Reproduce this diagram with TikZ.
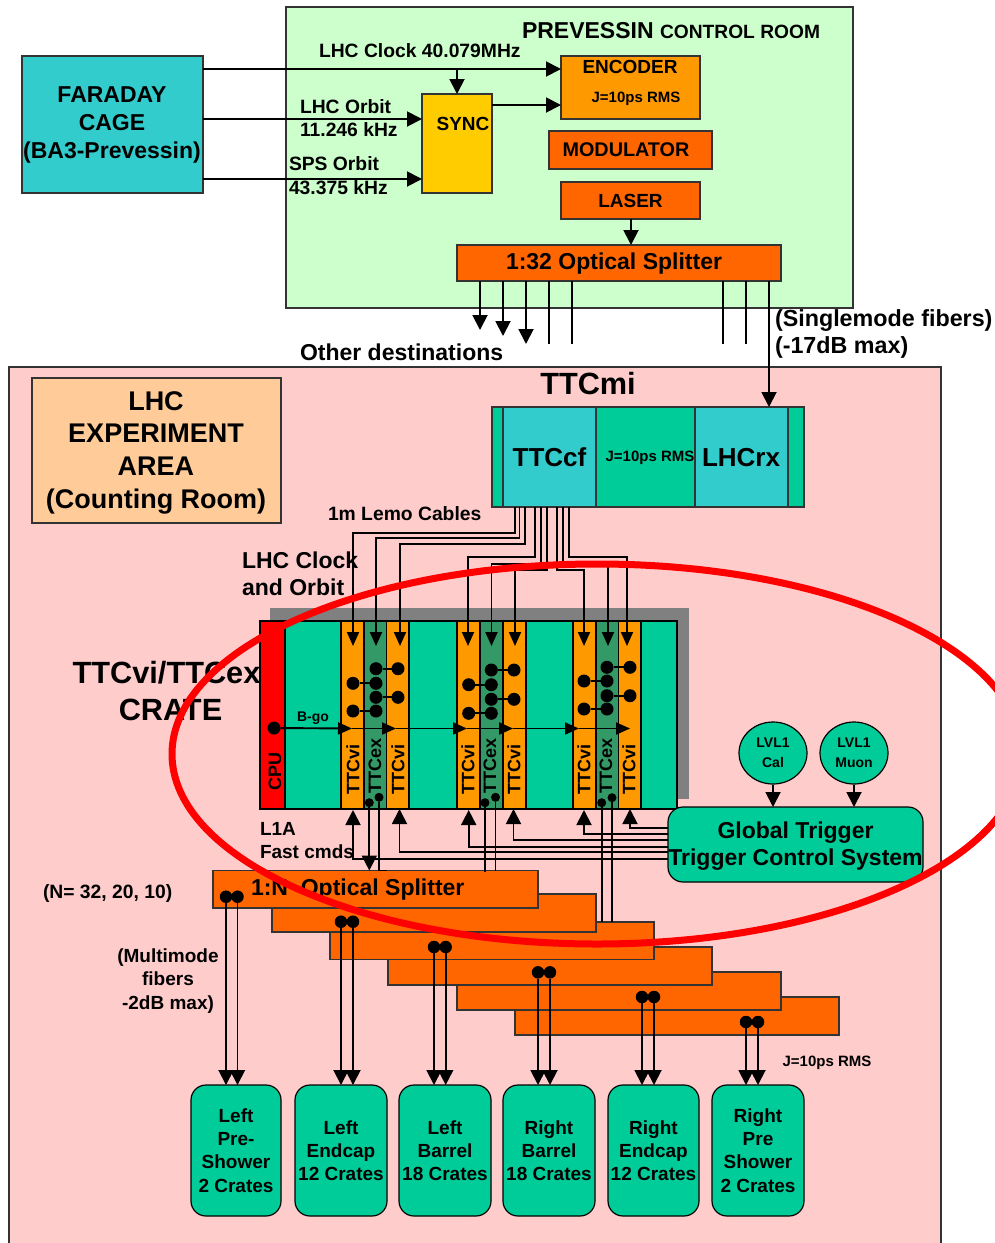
\documentclass[tikz,border=0pt]{standalone}
\usepackage{fontspec}
\setmainfont{Liberation Sans}
\usetikzlibrary{arrows.meta,shapes.geometric}
\definecolor{cFar}{HTML}{33CCCC}
\definecolor{cRoom}{HTML}{CCFFCC}
\definecolor{cPink}{HTML}{FFCCCC}
\definecolor{cPeach}{HTML}{FFCC99}
\definecolor{cOrange}{HTML}{FF9900}
\definecolor{cDeep}{HTML}{FF6600}
\definecolor{cSync}{HTML}{FFCC00}
\definecolor{cGreen}{HTML}{00CC99}
\definecolor{cEx}{HTML}{339966}
\definecolor{cEdge}{HTML}{333333}
\definecolor{cShadow}{HTML}{808080}
\tikzset{
  panel/.style={draw=cEdge,line width=1.2pt,inner sep=0pt,outer sep=0pt,align=center,font=\bfseries},
  rnd/.style={panel,fill=cGreen,rounded corners=15pt,draw=black},
  t/.style={inner sep=0pt,outer sep=0pt,align=center},
  tl/.style={inner sep=0pt,outer sep=0pt,align=left},
  s14/.style={font=\fontsize{14}{20}\selectfont\bfseries},
  s15/.style={font=\fontsize{15}{18}\selectfont\bfseries},
  s19/.style={font=\fontsize{19}{23.3}\selectfont\bfseries},
  s19b/.style={font=\fontsize{19.3}{23.8}\selectfont\bfseries},
  s198/.style={font=\fontsize{19.8}{24}\selectfont\bfseries},
  s18/.style={font=\fontsize{18}{22}\selectfont\bfseries},
  s23/.style={font=\fontsize{23}{27}\selectfont\bfseries},
  s23f/.style={font=\fontsize{23}{28}\selectfont\bfseries},
  s23s/.style={font=\fontsize{23.3}{27}\selectfont\bfseries},
  s26/.style={font=\fontsize{26}{32}\selectfont\bfseries},
  s27/.style={font=\fontsize{27}{32.7}\selectfont\bfseries},
  s30/.style={font=\fontsize{30.7}{37}\selectfont\bfseries},
  conn/.style={line width=1.9pt,draw=black},
  arr/.style={conn,-{Triangle[length=15pt,width=15pt]}},
  arrm/.style={conn,-{Triangle[length=14pt,width=12pt]}},
  dot/.style={circle,fill=black,inner sep=0pt,outer sep=0pt,minimum size=13pt},
  smalldot/.style={circle,fill=black,inner sep=0pt,outer sep=0pt,minimum size=9pt},
  pairdot/.style={circle,fill=black,inner sep=0pt,outer sep=0pt,minimum size=12.5pt},
  lvl/.style={draw=black,line width=1.2pt,fill=cGreen,ellipse,minimum width=68pt,minimum height=62pt,inner sep=0pt,align=center,s14},
}
\newcommand{\bx}[7][]{%
  \pgfmathsetmacro\bxw{#5-#3}\pgfmathsetmacro\bxh{#6-#4}%
  \pgfmathsetmacro\bxx{(#3+#5)/2}\pgfmathsetmacro\bxy{(#4+#6)/2}%
  \node[panel,minimum width=\bxw pt,minimum height=\bxh pt,#1] (#2) at (\bxx,\bxy) {#7};}
\begin{document}
\begin{tikzpicture}[x=1pt,y=-1pt]
\useasboundingbox (0,0) rectangle (995,1243);
\clip (0,0) rectangle (995,1243);
\fill[white] (0,0) rectangle (995,1243);

% --- Prevessin ---
\bx[fill=cRoom]{room}{286}{7}{853}{308}{}
\bx[fill=cFar]{faraday}{22}{56}{203}{193}{}
\bx[fill=cOrange]{encoder}{561}{56}{700}{119}{}
\bx[fill=cDeep]{modulator}{549}{131}{712}{169}{}
\bx[fill=cDeep,s19]{laser}{561}{182}{700}{219}{LASER}
\bx[fill=cDeep]{osplit}{457}{245}{781}{281}{}
\bx[fill=cSync]{sync}{422}{94}{492}{193}{}

\node[t,s23f] (fartxt) at (112,125) {FARADAY\\CAGE\\(BA3-Prevessin)};
\node[t,s19] (synctxt) at (463,124) {SYNC};
\node[t,s19] (enctxt) at (630,67) {ENCODER};
\node[t,s15] (encj) at (636,98.5) {J=10ps RMS};
\node[t,s198] (modtxt) at (626,150) {MODULATOR};
\node[t,s23] (osplittxt) at (614,264) {1:32 Optical Splitter};
\node[tl,anchor=west,s23] (prev) at (522,31) {PREVESSIN {\fontsize{19.2}{23}\selectfont CONTROL ROOM}};
\node[tl,anchor=west,s19b] (clk) at (319,51) {LHC Clock 40.079MHz};
\node[tl,anchor=west,s19b] (orb) at (300,118) {LHC Orbit\\11.246 kHz};
\node[tl,anchor=west,s19b] (sps) at (289,176) {SPS Orbit\\43.375 kHz};
\node[tl,anchor=west,s23] (other) at (300,352) {Other destinations};
\node[tl,anchor=west,s23s] (single) at (775,334) {(Singlemode fibers)\\(-17dB max)};

\draw[arr] (faraday.east |- 0,69) -- (encoder.west |- 0,69);
\draw[arr] (457,69) -- (sync.north -| 457,0);
\draw[arr] (faraday.east |- 0,119) -- (sync.west |- 0,119);
\draw[arr] (faraday.east |- 0,179) -- (sync.west |- 0,179);
\draw[arr] (sync.east |- 0,105) -- (encoder.west |- 0,105);
\draw[arr] (laser.south -| 631,0) -- (osplit.north -| 631,0);

\foreach \xx/\yy in {480/330,503/336,526/344}
  \draw[arr] (osplit.south -| \xx,0) -- (\xx,\yy);
\foreach \xx in {549,572,723,746}
  \draw[conn] (osplit.south -| \xx,0) -- (\xx,344);

% --- Experiment area ---
\fill[cPink] (9,367) rectangle (941,1250);
\draw[cEdge,line width=1.2pt] (9,1250) -- (9,367) -- (941,367) -- (941,1250);
\node[panel,fill=cPeach,minimum width=249pt,minimum height=145pt] (area) at (156.5,450.5) {};
\node[t,s27] (areatxt) at (156,452.5) {LHC\\EXPERIMENT\\AREA\\(Counting Room)};

\node[t,s30] (mi) at (588,384) {TTCmi};
\bx[fill=cGreen]{ttcmi}{492}{407}{804}{507}{}
\bx[fill=cFar,s26]{ttccf}{503}{407}{596}{507}{TTCcf}
\bx[fill=cFar]{lhcrx}{695}{407}{788}{507}{}
\node[t,s26] (rxtxt) at (741,458) {LHCrx};
\node[t,s15] (mij) at (650,457.5) {J=10ps RMS};
\draw[arr] (osplit.south -| 769,0) -- (lhcrx.north -| 769,0);

\node[tl,anchor=west,s19b] (lemo) at (328,514) {1m Lemo Cables};
\node[tl,anchor=west,s23] (lclk) at (242,573.5) {LHC Clock\\and Orbit};
\node[t,s30] (crateone) at (166.5,673) {TTCvi/TTCex};
\node[t,s30] (cratetwo) at (170.5,710) {CRATE};
\node[tl,anchor=west,s19] (l1a) at (260,840.5) {L1A\\Fast cmds};
\node[tl,anchor=west,s19b] (nn) at (43,893.5) {(N= 32, 20, 10)};
\node[t,s19] (multi) at (168,981) {(Multimode\\fibers\\-2dB max)};
\node[t,s15] (jbot) at (827,1062.5) {J=10ps RMS};

% crate
\fill[cShadow] (270,608) rectangle (689,799);
\bx[fill=cGreen,draw=black]{cratebox}{260}{621}{677}{809}{}
\bx[fill=red,draw=black]{cpu}{260}{621}{285}{809}{}
\node[t,s18,rotate=90] (cputxt) at (275,771) {CPU};

\bx[fill=cOrange,draw=black]{va}{341}{621}{364}{809}{}
\bx[fill=cEx,draw=black]{xa}{364}{621}{386.5}{809}{}
\bx[fill=cOrange,draw=black]{vb}{386.5}{621}{409}{809}{}
\bx[fill=cOrange,draw=black]{vc}{457}{621}{480}{809}{}
\bx[fill=cEx,draw=black]{xb}{480}{621}{503}{809}{}
\bx[fill=cOrange,draw=black]{vd}{503}{621}{526}{809}{}
\bx[fill=cOrange,draw=black]{ve}{573}{621}{596}{809}{}
\bx[fill=cEx,draw=black]{xc}{596}{621}{618.5}{809}{}
\bx[fill=cOrange,draw=black]{vf}{618.5}{621}{641}{809}{}

\foreach \nm/\xx in {a/353,b/398,c/468,d/514,e/584,f/629}
  \node[t,s18,rotate=90] (tv\nm) at (\xx,769) {TTCvi};
\foreach \nm/\xx in {a/375,b/490,c/606}
  \node[t,s18,rotate=90] (tx\nm) at (\xx,766) {TTCex};

% lemo cables into crate
\draw[arrm] (ttccf.south -| 515,0) -- (515,533) -- (353,533) -- (353,646);
\draw[arrm] (ttccf.south -| 519.5,0) -- (519.5,538) -- (376,538) -- (376,646);
\draw[arrm] (ttccf.south -| 525,0) -- (525,544) -- (400,544) -- (400,646);
\draw[arrm] (ttccf.south -| 535,0) -- (535,557) -- (468,557) -- (468,646);
\draw[arrm] (ttccf.south -| 541,0) -- (541,564) -- (491.5,564) -- (491.5,646);
\draw[arrm] (ttccf.south -| 547,0) -- (547,570) -- (515,570) -- (515,646);
\draw[arrm] (ttccf.south -| 557,0) -- (557,570) -- (584,570) -- (584,646);
\draw[arrm] (ttccf.south -| 563,0) -- (563,566) -- (608,566) -- (608,646);
\draw[arrm] (ttccf.south -| 569,0) -- (569,557) -- (627,557) -- (627,646);

% dots
\foreach \g/\xl/\xm/\xr/\ya/\yb/\yc/\yd in {a/353/376/398/668.7/683.3/697.3/711,b/468.7/491.3/514/670/684.7/699.3/713.3,c/584/607/630/667.3/681/695.7/709}{
  \node[dot] (m1\g) at (\xm,\ya) {};
  \node[dot] (m2\g) at (\xm,\yb) {};
  \node[dot] (m3\g) at (\xm,\yc) {};
  \node[dot] (m4\g) at (\xm,\yd) {};
  \node[dot] (r1\g) at (\xr,\ya) {};
  \node[dot] (r2\g) at (\xr,\yc) {};
  \node[dot] (l1\g) at (\xl,\yb) {};
  \node[dot] (l2\g) at (\xl,\yd) {};
  \draw[conn] (m1\g) -- (r1\g);
  \draw[conn] (m3\g) -- (r2\g);
  \draw[conn] (l1\g) -- (m2\g);
  \draw[conn] (l2\g) -- (m4\g);
}

% B-go
\node[dot] (bgo) at (274,728) {};
\node[t,font=\fontsize{14}{17}\selectfont\bfseries] (bgotxt) at (313,718) {B-go};
\coordinate (g1) at (352,728.5);
\coordinate (g2) at (396,728.5);
\coordinate (g3) at (467,728.5);
\coordinate (g4) at (513,728.5);
\coordinate (g5) at (579,728.5);
\coordinate (g6) at (630,728.5);
\draw[arrm] (bgo) -- (g1);
\draw[arrm] (g1) -- (g2);
\draw[arrm] (g2) -- (g3);
\draw[arrm] (g3) -- (g4);
\draw[arrm] (g4) -- (g5);
\draw[arrm] (g5) -- (g6);

% lvl1
\node[lvl] (cal) at (773,753) {LVL1\\Cal};
\node[lvl] (muon) at (854,753) {LVL1\\Muon};
\node[rnd,minimum width=255pt,minimum height=75pt] (gt) at (795.5,844.5) {};
\node[t,s23] (gttxt) at (795.5,846.5) {Global Trigger\\Trigger Control System};
\draw[arr] (cal) -- (cal.south |- gt.north);
\draw[arr] (muon) -- (muon.south |- gt.north);

% GT to crate
\draw[arr] (gt.west |- 0,859) -- (353,859) -- (353,810);
\draw[arr] (gt.west |- 0,852) -- (399.5,852) -- (399.5,809);
\draw[arr] (gt.west |- 0,847) -- (468.7,847) -- (468.7,810);
\draw[arr] (gt.west |- 0,840) -- (513.5,840) -- (513.5,809);
\draw[arr] (gt.west |- 0,834) -- (584,834) -- (584,810);
\draw[arr] (gt.west |- 0,828) -- (630,828) -- (630,809);

% splitters
\bx[fill=cDeep]{sf}{515}{997}{839}{1035}{}
\bx[fill=cDeep]{se}{457}{972}{781}{1010}{}
\bx[fill=cDeep]{sd}{388}{947}{712}{985}{}
\bx[fill=cDeep]{sc}{330}{922}{654}{959.5}{}
\bx[fill=cDeep]{sb}{272}{894}{596}{932}{}
\bx[fill=cDeep]{sa}{213}{870.5}{538}{908}{}
\node[tl,anchor=west,s23] (satxt) at (251,889.5) {1:N\ \ Optical Splitter};

% small dots and L1A lines
\foreach \nm/\xx/\yy in {p1/369.3/802.7,p2/379/797.3,p3/485/802.7,p4/495.5/797.3,p5/601.7/802.7,p6/612/797.7}
  \node[smalldot] (\nm) at (\xx,\yy) {};
\draw[arr] (p1) -- (p1 |- sa.north);
\draw[conn] (p2) -- (p2 |- sa.north) -- (387,870.5);
\draw[conn] (p3) -- (p3 |- 0,872);
\draw[conn] (p4) -- (p4 |- sa.north);
\draw[conn] (p5) -- (p5 |- sc.north);
\draw[conn] (p6) -- (p6 |- sc.north);

% crate boxes
\bx[rnd,s19]{b1}{191}{1085}{281}{1216}{Left\\Pre-\\Shower\\2 Crates}
\bx[rnd,s19]{b2}{295}{1085}{387}{1216}{Left\\Endcap\\12 Crates}
\bx[rnd,s19]{b3}{399}{1085}{491}{1216}{Left\\Barrel\\18 Crates}
\bx[rnd,s19]{b4}{503}{1085}{595}{1216}{Right\\Barrel\\18 Crates}
\bx[rnd,s19]{b5}{608}{1085}{699}{1216}{Right\\Endcap\\12 Crates}
\bx[rnd,s19]{b6}{712}{1085}{804}{1216}{Right\\Pre\\Shower\\2 Crates}

\foreach \n/\xa/\xb/\yy in {1/226/237.5/896.7,2/341/353/921.7,3/434/445.7/947,4/538/550/972.3,5/642/654/997,6/746/758/1022}{
  \node[pairdot] (da\n) at (\xa,\yy) {};
  \node[pairdot] (db\n) at (\xb,\yy) {};
  \draw[arr] (da\n) -- (da\n |- b\n.north);
  \draw[arr] (db\n) -- (db\n |- b\n.north);
}

% red ellipse
\node[draw=red,line width=7pt,ellipse,minimum width=850pt,minimum height=380pt,inner sep=0pt] (redring) at (597,754) {};
\end{tikzpicture}
\end{document}
